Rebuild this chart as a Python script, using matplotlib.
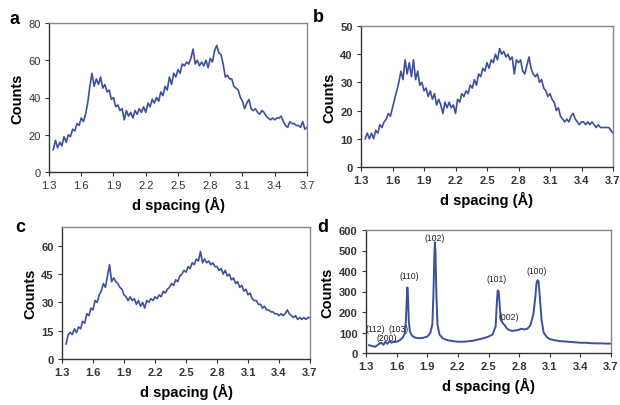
import matplotlib
matplotlib.use("Agg")
import matplotlib.pyplot as plt

plt.rcParams['font.family'] = ['Liberation Sans', 'DejaVu Sans']

# d spacing grid shared by panels a, b, c (Angstrom)
d_grid = [1.34, 1.36, 1.38, 1.40, 1.42, 1.44, 1.46, 1.48, 1.50, 1.52,
          1.54, 1.56, 1.58, 1.60, 1.62, 1.64, 1.66, 1.68, 1.70, 1.72,
          1.74, 1.76, 1.78, 1.80, 1.82, 1.84, 1.86, 1.88, 1.90, 1.92,
          1.94, 1.96, 1.98, 2.00, 2.02, 2.04, 2.06, 2.08, 2.10, 2.12,
          2.14, 2.16, 2.18, 2.20, 2.22, 2.24, 2.26, 2.28, 2.30, 2.32,
          2.34, 2.36, 2.38, 2.40, 2.42, 2.44, 2.46, 2.48, 2.50, 2.52,
          2.54, 2.56, 2.58, 2.60, 2.62, 2.64, 2.66, 2.68, 2.70, 2.72,
          2.74, 2.76, 2.78, 2.80, 2.82, 2.84, 2.86, 2.88, 2.90, 2.92,
          2.94, 2.96, 2.98, 3.00, 3.02, 3.04, 3.06, 3.08, 3.10, 3.12,
          3.14, 3.16, 3.18, 3.20, 3.22, 3.24, 3.26, 3.28, 3.30, 3.32,
          3.34, 3.36, 3.38, 3.40, 3.42, 3.44, 3.46, 3.48, 3.50, 3.52,
          3.54, 3.56, 3.58, 3.60, 3.62, 3.64, 3.66, 3.68, 3.70]

counts_a = [12, 17, 13, 16, 14, 19, 16, 20, 19, 23,
            22, 26, 25, 29, 27, 31, 37, 46, 53, 46,
            50, 47, 51, 45, 47, 43, 44, 39, 40, 35,
            36, 33, 34, 28, 33, 30, 32, 29, 33, 31,
            34, 32, 35, 32, 37, 35, 39, 37, 40, 38,
            43, 41, 46, 44, 51, 47, 53, 51, 55, 53,
            58, 57, 59, 58, 61, 66, 58, 60, 57, 59,
            57, 60, 56, 61, 59, 65, 68, 64, 63, 58,
            51, 52, 50, 50, 46, 45, 44, 40, 38, 34,
            37, 39, 34, 33, 34, 32, 31, 33, 32, 30,
            29, 28, 29, 28, 29, 29, 30, 27, 25, 24,
            27, 26, 26, 25, 25, 24, 27, 23, 24]

counts_b = [10, 12, 10, 12, 10, 13, 12, 15, 14, 16,
            17, 19, 18, 21, 24, 27, 30, 34, 31, 38,
            33, 37, 32, 38, 31, 34, 29, 30, 27, 28,
            25, 27, 24, 26, 22, 24, 22, 19, 23, 21,
            23, 21, 22, 19, 24, 23, 26, 25, 27, 26,
            29, 28, 31, 29, 33, 32, 35, 34, 37, 35,
            38, 37, 40, 38, 42, 40, 41, 39, 40, 38,
            39, 33, 38, 37, 38, 34, 33, 36, 39, 35,
            33, 32, 33, 30, 31, 28, 27, 25, 26, 24,
            23, 20, 21, 18, 17, 16, 17, 16, 18, 19,
            17, 16, 15, 16, 16, 15, 16, 15, 16, 15,
            14, 15, 14, 14, 14, 14, 14, 13, 12]

counts_c = [8, 13, 14, 13, 16, 14, 17, 16, 20, 19,
            24, 23, 27, 26, 31, 30, 34, 36, 40, 38,
            44, 50, 41, 43, 41, 40, 38, 37, 34, 33,
            31, 33, 31, 32, 29, 31, 28, 30, 27, 31,
            30, 32, 31, 33, 32, 34, 33, 36, 35, 37,
            38, 40, 39, 42, 41, 44, 45, 47, 46, 49,
            48, 51, 50, 53, 52, 57, 51, 53, 51, 52,
            50, 51, 49, 49, 47, 48, 45, 47, 44, 45,
            42, 43, 40, 41, 38, 39, 36, 37, 34, 35,
            32, 31, 31, 29, 29, 27, 28, 26, 26, 25,
            25, 24, 24, 23, 24, 23, 24, 26, 24, 23,
            22, 23, 21, 22, 21, 22, 21, 22, 22]

# panel d: crystalline sample, sharp reflections
d_spacing_d = [1.33, 1.36, 1.39, 1.42, 1.45, 1.47, 1.49, 1.51, 1.53, 1.55,
               1.57, 1.60, 1.63, 1.66, 1.68, 1.69, 1.70, 1.705, 1.71, 1.72,
               1.73, 1.75, 1.78, 1.82, 1.86, 1.90, 1.93, 1.95, 1.96, 1.97,
               1.975, 1.98, 1.99, 2.00, 2.02, 2.05, 2.10, 2.15, 2.20, 2.25,
               2.30, 2.35, 2.40, 2.45, 2.50, 2.54, 2.57, 2.58, 2.59, 2.60,
               2.61, 2.62, 2.64, 2.66, 2.68, 2.70, 2.73, 2.76, 2.79, 2.82,
               2.85, 2.88, 2.91, 2.94, 2.96, 2.97, 2.98, 2.99, 3.00, 3.02,
               3.04, 3.07, 3.10, 3.15, 3.20, 3.25, 3.30, 3.35, 3.40, 3.45,
               3.50, 3.55, 3.60, 3.65, 3.70]
counts_d = [38, 34, 30, 42, 50, 40, 55, 45, 58, 50,
            55, 55, 62, 75, 95, 150, 270, 320, 290, 150,
            105, 85, 75, 72, 74, 80, 98, 140, 280, 480,
            540, 500, 280, 140, 90, 72, 62, 58, 55, 55,
            57, 60, 66, 72, 80, 90, 130, 230, 305, 300,
            230, 170, 145, 135, 120, 112, 108, 110, 112, 118,
            115, 118, 135, 190, 280, 340, 355, 350, 290, 160,
            100, 78, 68, 62, 58, 56, 54, 52, 50, 50,
            48, 47, 47, 46, 46]

peak_labels = ["(112)", "(103)", "(200)", "(110)", "(102)", "(101)", "(002)", "(100)"]
peak_label_x = [1.395, 1.615, 1.50, 1.72, 1.97, 2.58, 2.70, 2.97]
peak_label_y = [121, 121, 76, 378, 562, 365, 178, 402]

xticks = [1.3, 1.6, 1.9, 2.2, 2.5, 2.8, 3.1, 3.4, 3.7]
line_color = "#3d4f9f"

W, H = 620, 406
fig = plt.figure(figsize=(W / 100, H / 100), dpi=100)


def make_axes(left, right, top, bottom):
    return fig.add_axes([left / W, 1 - bottom / H, (right - left) / W, (bottom - top) / H])


def style(ax, ymax, yticks, bold):
    ax.set_xlim(1.3, 3.7)
    ax.set_ylim(0, ymax)
    ax.set_xticks(xticks)
    ax.set_xticklabels([f"{t:.1f}" for t in xticks])
    ax.set_yticks(yticks)
    w = "bold" if bold else "normal"
    for lab in ax.get_xticklabels() + ax.get_yticklabels():
        lab.set_fontsize(8)
        lab.set_fontweight(w)
        lab.set_color("#333333")
    ax.tick_params(direction="out", length=3, width=0.8, pad=3, colors="#333333")
    for s in ["top", "right"]:
        ax.spines[s].set_color("#888888")
        ax.spines[s].set_linewidth(1.0)
    for s in ["left", "bottom"]:
        ax.spines[s].set_color("#333333")
        ax.spines[s].set_linewidth(1.0)
    ax.set_xlabel("d spacing (Å)", fontsize=10.5, fontweight="bold", labelpad=4)
    ax.set_ylabel("Counts", fontsize=10.5, fontweight="bold", labelpad=3)


ax_a = make_axes(49, 307, 24, 173)
ax_a.plot(d_grid, counts_a, color=line_color, lw=1.2)
style(ax_a, 80, [0, 20, 40, 60, 80], False)

ax_b = make_axes(361, 613, 27, 168)
ax_b.plot(d_grid, counts_b, color=line_color, lw=1.2)
style(ax_b, 50, [0, 10, 20, 30, 40, 50], True)

ax_c = make_axes(62, 310, 228, 360)
ax_c.plot(d_grid, counts_c, color=line_color, lw=1.2)
style(ax_c, 70, [0, 15, 30, 45, 60], True)

ax_d = make_axes(366, 611, 231, 354)
ax_d.plot(d_spacing_d, counts_d, color=line_color, lw=1.4)
style(ax_d, 600, [0, 100, 200, 300, 400, 500, 600], True)
for lab, x, y in zip(peak_labels, peak_label_x, peak_label_y):
    ax_d.text(x, y, lab, fontsize=6.2, ha="center", va="center", color="#222222")

for letter, x, y in [("a", 15, 20), ("b", 318, 18), ("c", 20, 228), ("d", 323, 228)]:
    fig.text(x / W, 1 - y / H, letter, fontsize=13, fontweight="bold", ha="center", va="center")

fig.savefig("out.png", dpi=100, facecolor="white")
